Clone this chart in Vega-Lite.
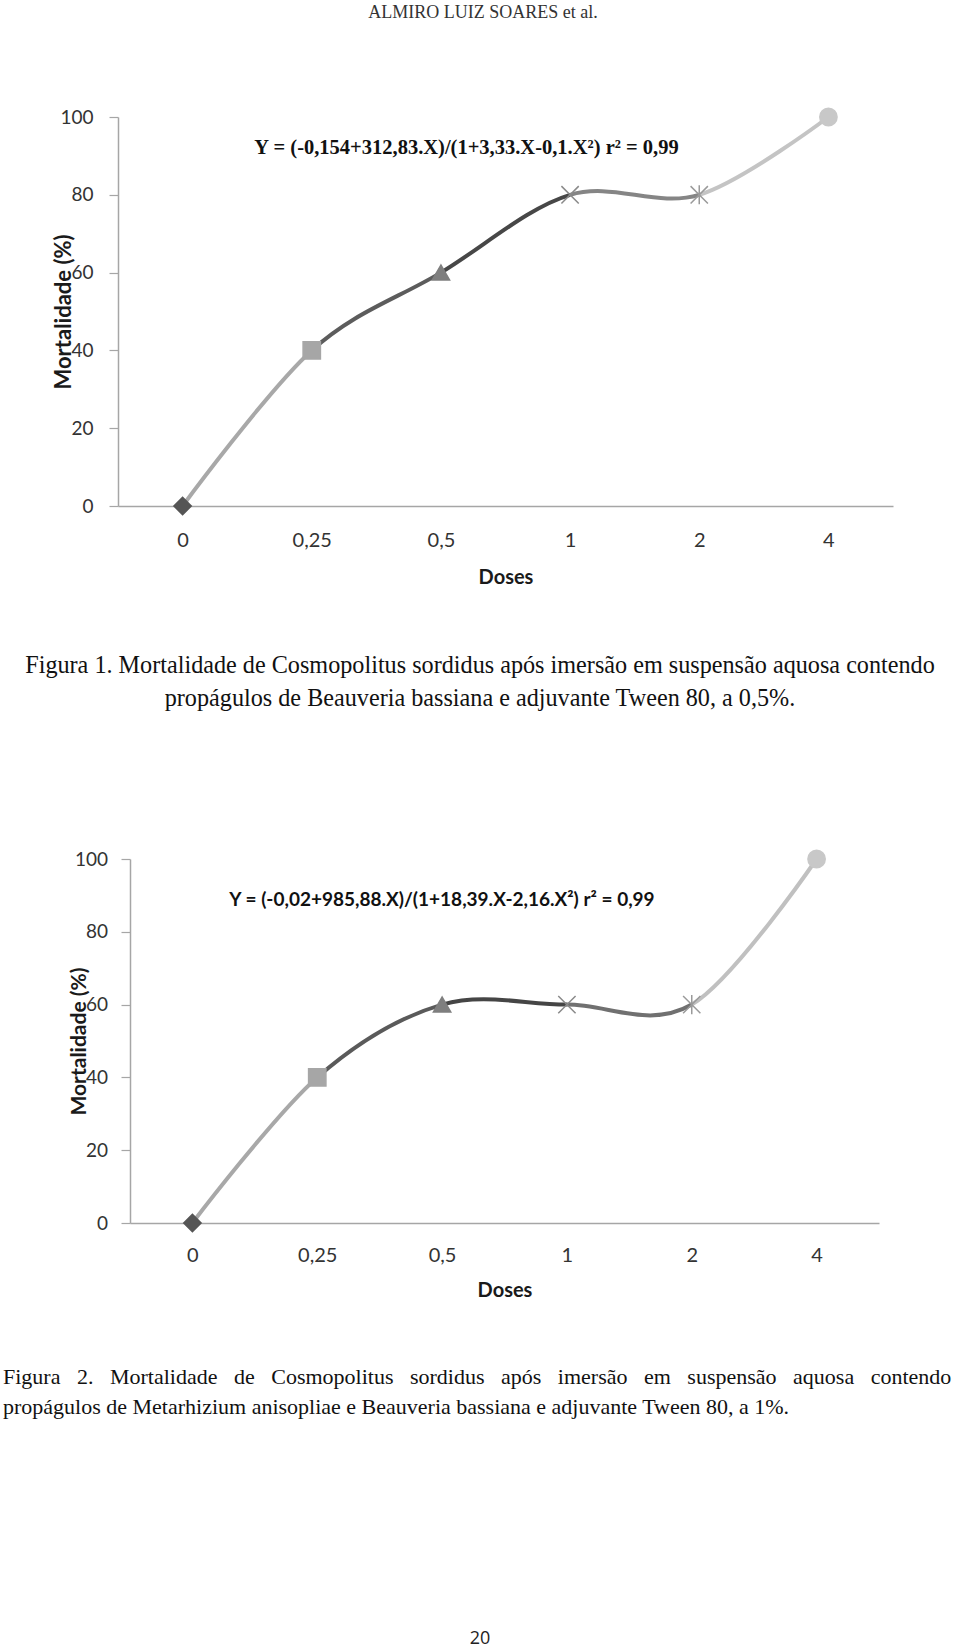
{
  "$schema": "https://vega.github.io/schema/vega-lite/v6.json",
  "background": "white",
  "padding": 0,
  "spacing": 0,
  "bounds": "full",
  "config": {"view": {"stroke": null}},
  "vconcat": [
    {
      "width": 960, "height": 25,
      "data": {"values": [{"t": "ALMIRO LUIZ SOARES et al."}]},
      "mark": {"type": "text", "font": "Liberation Serif", "fontSize": 18, "color": "#333333", "align": "center", "baseline": "middle", "dx": 3},
      "encoding": {"text": {"field": "t", "type": "nominal"}}
    },
    {"width": 960, "height": 79.49, "data": {"values": [{}]}, "mark": {"type": "text"}, "encoding": {"text": {"value": ""}}},
    {
      "spacing": 0,
      "bounds": "flush",
      "hconcat": [
        {"width": 118, "height": 389, "data": {"values": [{}]}, "mark": {"type": "text"}, "encoding": {"text": {"value": ""}}},
        {
          "width": 775, "height": 389,
          "data": {"values": [
            {"dose": "0", "mort": 0},
            {"dose": "0,25", "mort": 40},
            {"dose": "0,5", "mort": 60},
            {"dose": "1", "mort": 80},
            {"dose": "2", "mort": 80},
            {"dose": "4", "mort": 100}
          ]},
          "layer": [
            {
              "mark": {
                "type": "line", "interpolate": "cardinal", "tension": 0, "strokeWidth": 4, "strokeCap": "round",
                "stroke": {"gradient": "linear", "x1": 0, "y1": 0, "x2": 1, "y2": 0, "stops": [
                  {"offset": 0, "color": "#a8a8a8"}, {"offset": 0.2, "color": "#a8a8a8"},
                  {"offset": 0.2, "color": "#5c5c5c"}, {"offset": 0.4, "color": "#5c5c5c"},
                  {"offset": 0.4, "color": "#474747"}, {"offset": 0.6, "color": "#474747"},
                  {"offset": 0.6, "color": "#858585"}, {"offset": 0.8, "color": "#858585"},
                  {"offset": 0.8, "color": "#c4c4c4"}, {"offset": 1, "color": "#c4c4c4"}
                ]}
              },
              "encoding": {
                "x": {"field": "dose", "type": "ordinal", "title": "Doses",
                  "scale": {"type": "point", "padding": 0.5, "domain": ["0", "0,25", "0,5", "1", "2", "4"]},
                  "axis": {"labelAngle": 0, "ticks": false, "grid": false, "domainColor": "#a6a6a6", "domainWidth": 1.5,
                    "labelFont": "Lato", "labelFontSize": 20, "labelColor": "#333333", "labelPadding": 24.7,
                    "titleFont": "Lato", "titleFontWeight": "bold", "titleFontSize": 20, "titleColor": "#1a1a1a", "titlePadding": 16.7}},
                "y": {"field": "mort", "type": "quantitative", "title": "Mortalidade (%)",
                  "scale": {"domain": [0, 100], "nice": false},
                  "axis": {"values": [0, 20, 40, 60, 80, 100], "grid": false, "domainColor": "#a6a6a6", "domainWidth": 1.5,
                    "tickSize": 9, "tickColor": "#a6a6a6", "tickWidth": 1.2, "labelFlush": false,
                    "labelFont": "Lato", "labelFontSize": 19, "labelColor": "#333333", "labelPadding": 16,
                    "titleFont": "Lato", "titleFontWeight": "bold", "titleFontSize": 22, "titleColor": "#1a1a1a", "titlePadding": -15.5}}
              }
            },
            {
              "mark": {"type": "point", "filled": true, "opacity": 1, "strokeWidth": 1.5, "size": 300},
              "encoding": {
                "x": {"field": "dose", "type": "ordinal", "title": "Doses"},
                "y": {"field": "mort", "type": "quantitative", "title": "Mortalidade (%)"},
                "shape": {"field": "dose", "type": "nominal", "legend": null,
                  "scale": {"domain": ["0", "0,25", "0,5", "1", "2", "4"],
                    "range": ["diamond", "square", "triangle-up", "M-1,-1L1,1M-1,1L1,-1", "M-1,-1L1,1M-1,1L1,-1M0,-1.1L0,1.1", "circle"]}},
                "fill": {"field": "dose", "type": "nominal", "legend": null,
                  "scale": {"domain": ["0", "0,25", "0,5", "1", "2", "4"],
                    "range": ["#555555", "#a6a6a6", "#7f7f7f", "#8a8a8a", "#9a9a9a", "#c8c8c8"]}},
                "stroke": {"field": "dose", "type": "nominal", "legend": null,
                  "scale": {"domain": ["0", "0,25", "0,5", "1", "2", "4"],
                    "range": ["#555555", "#a6a6a6", "#7f7f7f", "#8a8a8a", "#9a9a9a", "#c8c8c8"]}}
              }
            },
            {
              "data": {"values": [{"eq": "Y = (-0,154+312,83.X)/(1+3,33.X-0,1.X²) r² = 0,99"}]},
              "mark": {"type": "text", "font": "Liberation Serif", "fontWeight": "bold", "fontSize": 20.5, "color": "#111111", "align": "center", "baseline": "middle", "dx": -39},
              "encoding": {
                "y": {"datum": 92.1, "type": "quantitative", "title": "Mortalidade (%)"},
                "text": {"field": "eq", "type": "nominal"}
              }
            }
          ]
        }
      ]
    },
    {"width": 960, "height": 37.3, "data": {"values": [{}]}, "mark": {"type": "text"}, "encoding": {"text": {"value": ""}}},
    {
      "width": 960, "height": 80,
      "data": {"values": [{"t": "Figura 1. Mortalidade de Cosmopolitus sordidus após imersão em suspensão aquosa contendo\npropágulos de Beauveria bassiana e adjuvante Tween 80, a 0,5%."}]},
      "mark": {"type": "text", "font": "Liberation Serif", "fontSize": 24.2, "lineHeight": 33, "lineBreak": "\n", "color": "#111111", "align": "center", "baseline": "middle"},
      "encoding": {"text": {"field": "t", "type": "nominal"}}
    },
    {"width": 960, "height": 134.2, "data": {"values": [{}]}, "mark": {"type": "text"}, "encoding": {"text": {"value": ""}}},
    {
      "spacing": 0,
      "bounds": "flush",
      "hconcat": [
        {"width": 130, "height": 364, "data": {"values": [{}]}, "mark": {"type": "text"}, "encoding": {"text": {"value": ""}}},
        {
          "width": 749, "height": 364,
          "data": {"values": [
            {"dose": "0", "mort": 0},
            {"dose": "0,25", "mort": 40},
            {"dose": "0,5", "mort": 60},
            {"dose": "1", "mort": 60},
            {"dose": "2", "mort": 60},
            {"dose": "4", "mort": 100}
          ]},
          "layer": [
            {
              "mark": {
                "type": "line", "interpolate": "cardinal", "tension": 0, "strokeWidth": 4, "strokeCap": "round",
                "stroke": {"gradient": "linear", "x1": 0, "y1": 0, "x2": 1, "y2": 0, "stops": [
                  {"offset": 0, "color": "#a8a8a8"}, {"offset": 0.2, "color": "#a8a8a8"},
                  {"offset": 0.2, "color": "#5a5a5a"}, {"offset": 0.4, "color": "#5a5a5a"},
                  {"offset": 0.4, "color": "#454545"}, {"offset": 0.6, "color": "#454545"},
                  {"offset": 0.6, "color": "#707070"}, {"offset": 0.8, "color": "#707070"},
                  {"offset": 0.8, "color": "#c0c0c0"}, {"offset": 1, "color": "#c0c0c0"}
                ]}
              },
              "encoding": {
                "x": {"field": "dose", "type": "ordinal", "title": "Doses",
                  "scale": {"type": "point", "padding": 0.5, "domain": ["0", "0,25", "0,5", "1", "2", "4"]},
                  "axis": {"labelAngle": 0, "ticks": false, "grid": false, "domainColor": "#a6a6a6", "domainWidth": 1.5,
                    "labelFont": "Lato", "labelFontSize": 20, "labelColor": "#333333", "labelPadding": 22,
                    "titleFont": "Lato", "titleFontWeight": "bold", "titleFontSize": 20, "titleColor": "#1a1a1a", "titlePadding": 15.4}},
                "y": {"field": "mort", "type": "quantitative", "title": "Mortalidade (%)",
                  "scale": {"domain": [0, 100], "nice": false},
                  "axis": {"values": [0, 20, 40, 60, 80, 100], "grid": false, "domainColor": "#a6a6a6", "domainWidth": 1.5,
                    "tickSize": 9, "tickColor": "#a6a6a6", "tickWidth": 1.2, "labelFlush": false,
                    "labelFont": "Lato", "labelFontSize": 19, "labelColor": "#333333", "labelPadding": 13.5,
                    "titleFont": "Lato", "titleFontWeight": "bold", "titleFontSize": 21, "titleColor": "#1a1a1a", "titlePadding": -15.5}}
              }
            },
            {
              "mark": {"type": "point", "filled": true, "opacity": 1, "strokeWidth": 1.5, "size": 300},
              "encoding": {
                "x": {"field": "dose", "type": "ordinal", "title": "Doses"},
                "y": {"field": "mort", "type": "quantitative", "title": "Mortalidade (%)"},
                "shape": {"field": "dose", "type": "nominal", "legend": null,
                  "scale": {"domain": ["0", "0,25", "0,5", "1", "2", "4"],
                    "range": ["diamond", "square", "triangle-up", "M-1,-1L1,1M-1,1L1,-1", "M-1,-1L1,1M-1,1L1,-1M0,-1.1L0,1.1", "circle"]}},
                "fill": {"field": "dose", "type": "nominal", "legend": null,
                  "scale": {"domain": ["0", "0,25", "0,5", "1", "2", "4"],
                    "range": ["#555555", "#a6a6a6", "#7f7f7f", "#8a8a8a", "#9a9a9a", "#c8c8c8"]}},
                "stroke": {"field": "dose", "type": "nominal", "legend": null,
                  "scale": {"domain": ["0", "0,25", "0,5", "1", "2", "4"],
                    "range": ["#555555", "#a6a6a6", "#7f7f7f", "#8a8a8a", "#9a9a9a", "#c8c8c8"]}}
              }
            },
            {
              "data": {"values": [{"eq": "Y = (-0,02+985,88.X)/(1+18,39.X-2,16.X²)  r² = 0,99"}]},
              "mark": {"type": "text", "font": "Lato", "fontWeight": "bold", "fontSize": 19, "color": "#111111", "align": "center", "baseline": "middle", "dx": -62.5},
              "encoding": {
                "y": {"datum": 88.7, "type": "quantitative", "title": "Mortalidade (%)"},
                "text": {"field": "eq", "type": "nominal"}
              }
            }
          ]
        }
      ]
    },
    {"width": 960, "height": 35.8, "data": {"values": [{}]}, "mark": {"type": "text"}, "encoding": {"text": {"value": ""}}},
    {
      "width": 6, "height": 80,
      "data": {"values": [{"t": "Figura\u2002 2.\u2002 Mortalidade\u2002 de\u2002 Cosmopolitus\u2002 sordidus\u2002 após\u2002 imersão\u2002 em\u2002 suspensão\u2002 aquosa\u2002 contendo\npropágulos de Metarhizium anisopliae e Beauveria bassiana e adjuvante Tween 80, a 1%."}]},
      "mark": {"type": "text", "font": "Liberation Serif", "fontSize": 22, "lineHeight": 30, "lineBreak": "\n", "color": "#111111", "align": "left", "baseline": "middle"},
      "encoding": {"text": {"field": "t", "type": "nominal"}}
    },
    {"width": 960, "height": 211.3, "data": {"values": [{}]}, "mark": {"type": "text"}, "encoding": {"text": {"value": ""}}},
    {
      "width": 960, "height": 18,
      "data": {"values": [{"t": "20"}]},
      "mark": {"type": "text", "font": "Open Sans", "fontSize": 18, "color": "#222222", "align": "center", "baseline": "middle"},
      "encoding": {"text": {"field": "t", "type": "nominal"}}
    }
  ]
}
